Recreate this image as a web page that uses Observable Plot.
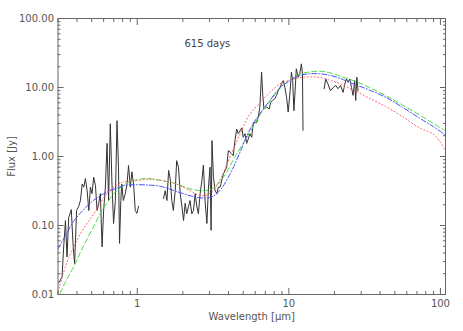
<!DOCTYPE html>
<html>
<head>
<meta charset="utf-8">
<script src="https://cdn.jsdelivr.net/npm/d3@7"></script>
<script src="https://cdn.jsdelivr.net/npm/@observablehq/plot@0.6"></script>
<style>
  html, body { margin: 0; padding: 0; background: #fff; }
</style>
</head>
<body>
<div id="chart"></div>
<script>
// ---- Observed spectrum (black), three separate segments ----
const optWave = [0.305,0.319,0.327,0.336,0.344,0.353,0.367,0.378,0.386,0.398,0.411,0.422,0.433,0.444,0.455,0.467,0.479,0.491,0.503,0.516,0.530,0.543,0.557,0.571,0.586,0.600,0.616,0.632,0.647,0.664,0.681,0.698,0.717,0.735,0.752,0.764,0.779,0.790,0.809,0.834,0.856,0.876,0.900,0.922,0.946,0.970,0.994,1.02];
const optFlux = [0.015,0.018,0.049,0.118,0.035,0.13,0.17,0.049,0.028,0.165,0.19,0.23,0.40,0.36,0.48,0.32,0.165,0.36,0.29,0.50,0.38,0.165,0.21,0.29,0.049,0.165,0.36,1.55,0.23,2.98,0.40,0.107,0.23,3.3,0.70,0.055,0.23,0.40,0.23,0.29,0.40,0.74,0.36,0.60,0.40,0.165,0.15,0.19];

const irWave = [1.49,1.53,1.57,1.61,1.65,1.69,1.73,1.78,1.82,1.87,1.92,1.97,2.02,2.07,2.12,2.18,2.23,2.29,2.35,2.41,2.47,2.53,2.60,2.67,2.73,2.80,2.88,2.95,3.02,3.07,3.11,3.18,3.26,3.35,3.43,3.52,3.70,3.89,3.99,4.20,4.30,4.41,4.53,4.64,4.89,5.00,5.14,5.27,5.40,5.54,5.69,5.83,6.13,6.28,6.44,6.61,6.72,6.85,7.14,7.42,7.59,7.82,8.09,8.30,8.51,8.73,8.96,9.18,9.42,9.66,9.90,10.2,10.4,10.6,10.8,11.0,11.2,11.5,11.8,12.1,12.3,12.4];
const irFlux = [0.246,0.32,0.23,0.63,0.47,0.23,0.165,0.32,0.87,0.70,0.29,0.19,0.118,0.21,0.148,0.19,0.23,0.148,0.165,0.29,0.19,0.148,0.29,0.45,0.75,0.23,0.107,0.36,0.70,0.085,1.7,0.50,0.32,0.29,0.36,0.36,0.56,0.70,1.22,1.1,1.03,1.7,2.5,2.14,2.6,1.9,2.14,1.55,1.8,2.14,1.9,3.1,3.1,3.7,5.2,16.7,8.1,4.9,5.2,4.9,6.1,6.5,6.9,7.7,9.0,10,11.3,12.6,10,7.2,4.4,9.0,16.7,12.6,4.6,9.0,18.7,14.1,15.8,22,15.8,2.4];

const farWave = [17.1,17.5,18.1,18.8,19.6,20.4,21.1,21.9,22.8,23.4,24.0,24.6,25.2,25.9,26.5,27.2,27.6,28.1,28.6];
const farFlux = [9.6,13.3,11.3,9.0,10,10.7,9.6,10.7,8.5,11.3,13.3,11.9,13.3,10,7.7,12.6,6.5,14.1,9.0];

// ---- Model curves ----
const greenWave = [0.31,0.34,0.38,0.42,0.46,0.52,0.57,0.63,0.70,0.77,0.85,1.0,1.15,1.42,1.75,2.23,2.7,3.1,3.7,4.4,5.5,6.45,7.5,8.7,10.2,11.8,13.7,16,18.6,21.7,26.6,34,43.6,56,72.8,90,108];
const greenFlux = [0.0105,0.016,0.025,0.04,0.06,0.10,0.15,0.21,0.29,0.35,0.41,0.46,0.48,0.45,0.41,0.34,0.32,0.34,0.5,0.98,2.2,4.0,6.3,9.6,12.8,15.6,16.8,17.2,16.4,14.6,12.6,10.0,7.6,5.6,4.0,3.0,2.35];

const blueWave = [0.30,0.34,0.38,0.42,0.5,0.57,0.66,0.74,0.82,1.0,1.2,1.42,1.75,2.23,2.7,3.1,3.5,4.1,4.76,5.5,6.45,7.5,8.7,10.2,11.8,13.7,16,18.6,21.7,26.6,34,43.6,56,72.8,90,108];
const blueFlux = [0.046,0.075,0.115,0.15,0.22,0.27,0.32,0.35,0.38,0.39,0.385,0.37,0.32,0.27,0.25,0.26,0.32,0.56,1.15,2.4,4.2,6.5,9.8,12.7,14.9,15.8,15.8,15.0,13.6,11.3,9.2,7.2,5.2,3.6,2.7,2.05];

const redWave = [0.30,0.345,0.38,0.42,0.47,0.52,0.57,0.63,0.70,0.77,0.87,1.0,1.2,1.35,1.75,2.23,2.6,3.0,3.5,4.1,4.76,5.5,6.45,7.5,8.7,10.2,11.8,13.7,16,18.6,21.7,26.6,34,43.6,56,72.8,90,100,108];
const redFlux = [0.011,0.03,0.048,0.075,0.11,0.15,0.21,0.29,0.36,0.41,0.44,0.45,0.47,0.46,0.41,0.32,0.27,0.29,0.45,1.0,2.1,4.0,6.0,8.5,11.2,12.8,13.9,14.3,14.0,12.8,11.4,9.2,7.0,5.3,3.8,2.6,2.1,1.6,1.2];

// ---- Axes / ticks / labels ----
const xDomain = [0.3, 108];
const yDomain = [0.01, 100];
const xMajor = [1, 10, 100];
const xMajorLabels = ["1", "10", "100"];
const yMajor = [0.01, 0.1, 1, 10, 100];
const yMajorLabels = ["0.01", "0.10", "1.00", "10.00", "100.00"];
const minorMultipliers = [2, 3, 4, 5, 6, 7, 8, 9];
const xDecades = [0.1, 1, 10];
const yDecades = [0.01, 0.1, 1, 10];
const xTitle = "Wavelength [μm]";
const yTitle = "Flux [Jy]";
const annotText = "615 days";
const annotWave = 2.9;
const annotFlux = 43;

const xMinor = xDecades.flatMap(d => minorMultipliers.map(m => +(d * m).toPrecision(3))).filter(v => v >= xDomain[0] && v <= xDomain[1]);
const yMinor = yDecades.flatMap(d => minorMultipliers.map(m => +(d * m).toPrecision(3)));
const xLabelMap = new Map(xMajor.map((v, i) => [v, xMajorLabels[i]]));
const yLabelMap = new Map(yMajor.map((v, i) => [v, yMajorLabels[i]]));

const zip = (ws, fs, seg) => ws.slice(0, Math.min(ws.length, fs.length)).map((w, i) => ({wave: w, flux: fs[i], seg}));
const observed = [...zip(optWave, optFlux, "opt"), ...zip(irWave, irFlux, "ir"), ...zip(farWave, farFlux, "far")];
const green = zip(greenWave, greenFlux, "g");
const blue = zip(blueWave, blueFlux, "b");
const red = zip(redWave, redFlux, "r");

const axisColor = "#666";
const tickAxes = [];
for (const anchor of ["bottom", "top"]) {
  tickAxes.push(Plot.axisX({anchor, ticks: xMajor, tickSize: -6, tickFormat: () => "", label: null, stroke: axisColor}));
  tickAxes.push(Plot.axisX({anchor, ticks: xMinor, tickSize: -3, tickFormat: () => "", label: null, stroke: axisColor}));
}
for (const anchor of ["left", "right"]) {
  tickAxes.push(Plot.axisY({anchor, ticks: yMajor, tickSize: -6, tickFormat: () => "", label: null, stroke: axisColor}));
  tickAxes.push(Plot.axisY({anchor, ticks: yMinor, tickSize: -3, tickFormat: () => "", label: null, stroke: axisColor}));
}

const chart = Plot.plot({
  width: 463,
  height: 331,
  marginLeft: 57.5,
  marginRight: 18,
  marginTop: 18,
  marginBottom: 37,
  style: {fontFamily: "DejaVu Sans", fontSize: "10px", color: "#555", background: "#fff"},
  x: {type: "log", domain: xDomain},
  y: {type: "log", domain: yDomain},
  marks: [
    Plot.frame({stroke: axisColor}),
    ...tickAxes,
    Plot.axisX({anchor: "bottom", ticks: xMajor, tickSize: 0, tickPadding: 5, tickFormat: d => xLabelMap.get(d),
      label: xTitle, labelAnchor: "center", labelOffset: 25, labelArrow: "none", fill: "#555"}),
    Plot.axisY({anchor: "left", ticks: yMajor, tickSize: 0, tickPadding: 4, tickFormat: d => yLabelMap.get(d),
      label: yTitle, labelAnchor: "center", labelOffset: 50, labelArrow: "none", fill: "#555"}),
    Plot.line(observed, {x: "wave", y: "flux", z: "seg", stroke: "#333", strokeWidth: 1, clip: true}),
    Plot.line(green, {x: "wave", y: "flux", stroke: "#44dd44", strokeWidth: 1, strokeDasharray: "5,3", curve: "catmull-rom", clip: true}),
    Plot.line(blue, {x: "wave", y: "flux", stroke: "#4a4aff", strokeWidth: 1, strokeDasharray: "5,2,1,2", curve: "catmull-rom", clip: true}),
    Plot.line(red, {x: "wave", y: "flux", stroke: "#ff5a5a", strokeWidth: 1, strokeDasharray: "1,2.5", curve: "catmull-rom", clip: true}),
    Plot.text([{wave: annotWave, flux: annotFlux, t: annotText}], {x: "wave", y: "flux", text: "t", fill: "#444", fontSize: 10})
  ]
});
document.getElementById("chart").appendChild(chart);
</script>
</body>
</html>
